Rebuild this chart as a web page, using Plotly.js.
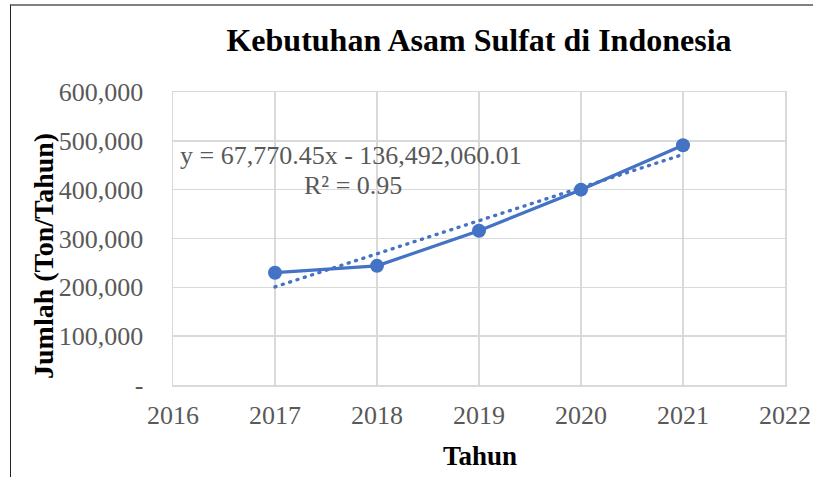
<!DOCTYPE html>
<html>
<head>
<meta charset="utf-8">
<script src="https://cdn.plot.ly/plotly-3.0.1.min.js"></script>
<style>
  html, body { margin: 0; padding: 0; background: #fff; }
  #wrap { position: relative; width: 813px; height: 477px; overflow: hidden; }
  #chart { position: absolute; left: 0; top: 0; width: 813px; height: 477px; }
  #frame { position: absolute; left: 10px; top: 4px; width: 900px; height: 600px;
           border-left: 1px solid #222; border-top: 2px solid #808080; pointer-events: none; }
  .scatterlayer .trace:first-child .js-line { stroke-linecap: round; }
</style>
</head>
<body>
<div id="wrap">
  <div id="chart"></div>
  <div id="frame"></div>
</div>
<script>
// Data
const years = [2017, 2018, 2019, 2020, 2021];
const demand = [230000, 244000, 316000, 400000, 491000];

// Linear trendline endpoints (from the shown equation y = 67,770.45x - 136,492,060.01)
const trendYears = [2017, 2021];
const trendValues = [200938, 472020];

const yTickVals = [0, 100000, 200000, 300000, 400000, 500000, 600000];
const yTickText = ['-', '100,000', '200,000', '300,000', '400,000', '500,000', '600,000'];
const xTickVals = [2016, 2017, 2018, 2019, 2020, 2021, 2022];

const chartTitle = 'Kebutuhan Asam Sulfat di Indonesia';
const xTitle = 'Tahun';
const yTitle = 'Jumlah (Ton/Tahun)';
const eqLine1 = 'y = 67,770.45x - 136,492,060.01';
const eqLine2 = 'R² = 0.95';

const blue = '#4472C4';
const serif = 'Liberation Serif, Times New Roman, serif';

const traces = [
  {
    x: trendYears, y: trendValues, type: 'scatter', mode: 'lines',
    line: { color: blue, width: 3.4, dash: '1px,6.7px' },
    hoverinfo: 'skip', showlegend: false
  },
  {
    x: years, y: demand, type: 'scatter', mode: 'lines+markers',
    line: { color: blue, width: 3.2 },
    marker: { color: blue, size: 14, symbol: 'circle' },
    showlegend: false
  }
];

const layout = {
  width: 813, height: 477,
  margin: { l: 173, r: 28, t: 92, b: 92, pad: 0 },
  paper_bgcolor: '#ffffff', plot_bgcolor: '#ffffff',
  showlegend: false,
  title: {
    text: '<b>' + chartTitle + '</b>',
    font: { family: serif, size: 32, color: '#000000' },
    x: 0.5, xref: 'paper', xanchor: 'center',
    y: 1 - 40 / 477, yref: 'container', yanchor: 'middle'
  },
  xaxis: {
    range: [2016, 2022],
    tickvals: xTickVals,
    ticktext: xTickVals.map(String),
    showgrid: true, gridcolor: '#d9d9d9', gridwidth: 1.5,
    showline: true, linecolor: '#d9d9d9', linewidth: 1.5, mirror: true,
    zeroline: false,
    ticks: 'outside', ticklen: 6, tickcolor: 'rgba(0,0,0,0)',
    tickfont: { family: serif, size: 26, color: '#595959' },
    fixedrange: true
  },
  yaxis: {
    range: [0, 600000],
    tickvals: yTickVals,
    ticktext: yTickText,
    showgrid: true, gridcolor: '#d9d9d9', gridwidth: 1.5,
    showline: true, linecolor: '#d9d9d9', linewidth: 1.5, mirror: true,
    zeroline: false,
    ticks: 'outside', ticklen: 23, tickcolor: 'rgba(0,0,0,0)',
    tickfont: { family: serif, size: 26, color: '#595959' },
    fixedrange: true
  },
  annotations: [
    {
      text: '<b>' + xTitle + '</b>', showarrow: false,
      xref: 'paper', yref: 'paper',
      x: (480 - 173) / 612, y: (385 - 456) / 293,
      xanchor: 'center', yanchor: 'middle',
      font: { family: serif, size: 27, color: '#000000' }
    },
    {
      text: '<b>' + yTitle + '</b>', showarrow: false, textangle: -90,
      xref: 'paper', yref: 'paper',
      x: (43 - 173) / 612, y: (385 - 256) / 293,
      xanchor: 'center', yanchor: 'middle',
      font: { family: serif, size: 28, color: '#000000' }
    },
    {
      text: eqLine1, showarrow: false,
      xref: 'paper', yref: 'paper',
      x: (351 - 173) / 612, y: (385 - 155) / 293,
      xanchor: 'center', yanchor: 'middle',
      font: { family: serif, size: 26, color: '#595959' }
    },
    {
      text: eqLine2, showarrow: false,
      xref: 'paper', yref: 'paper',
      x: (353 - 173) / 612, y: (385 - 185) / 293,
      xanchor: 'center', yanchor: 'middle',
      font: { family: serif, size: 26, color: '#595959' }
    }
  ]
};

Plotly.newPlot('chart', traces, layout, { staticPlot: true, displayModeBar: false });
</script>
</body>
</html>
